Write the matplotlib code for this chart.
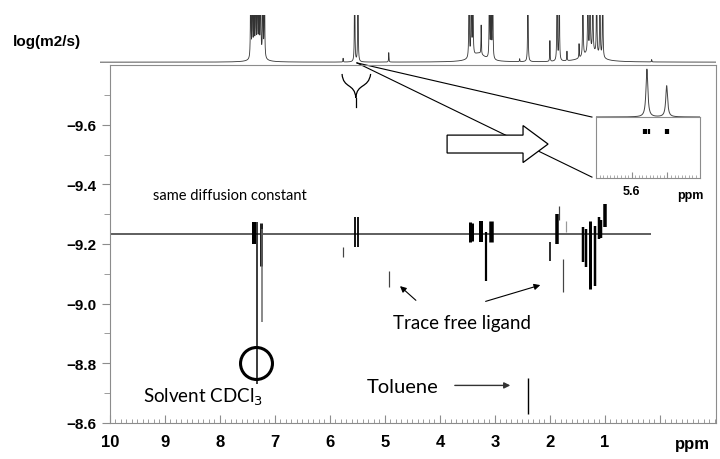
import matplotlib.pyplot as plt
import numpy as np
from matplotlib.patches import FancyArrow, PathPatch
from matplotlib.path import Path

# top 1D projection: line positions (ppm) and heights (1 = top of strip)
proj_ppm = [7.44, 7.41, 7.38, 7.35, 7.32, 7.29, 7.26, 7.22, 7.19, 5.76, 5.55, 5.49,
            4.93, 3.47, 3.43, 3.40, 3.25, 3.10, 3.07, 3.04, 2.55, 2.40, 2.00, 1.87,
            1.83, 1.69, 1.47, 1.40, 1.31, 1.27, 1.22, 1.15, 1.09, 1.04, 0.15]
proj_h = [3, 3, 3, 3, 3, 3, 3, 3, 3, 0.08, 3, 3,
          0.20, 3, 3, 3, 0.62, 3, 3, 3, 0.06, 3, 0.44, 3,
          3, 0.2, 0.3, 3, 3, 3, 3, 3, 3, 3, 0.05]
hump_ppm = [7.30, 3.30, 1.25]
hump_h = [0.12, 0.18, 0.22]
hump_w = [0.10, 0.14, 0.16]

# DOSY cross peaks: shift, log D top / bottom, stroke width (px), colour
cross_ppm = [7.38, 7.318, 7.26, 7.235, 5.545, 5.491, 5.764, 4.927,
             3.46, 3.41, 3.245, 3.164, 3.073, 2.00, 1.864, 1.836, 1.764, 1.709,
             1.39, 1.345, 1.264, 1.182, 1.10, 1.07, 0.991, 2.40]
cross_top = [-9.274, -9.274, -9.27, -9.25, -9.29, -9.29, -9.189, -9.109,
             -9.273, -9.27, -9.277, -9.24, -9.277, -9.206, -9.30, -9.327, -9.149, -9.277,
             -9.256, -9.25, -9.277, -9.26, -9.29, -9.28, -9.334, -8.75]
cross_bot = [-9.20, -8.73, -9.126, -8.938, -9.189, -9.189, -9.156, -9.055,
             -9.206, -9.21, -9.206, -9.075, -9.206, -9.142, -9.20, -9.28, -9.038, -9.24,
             -9.14, -9.122, -9.048, -9.058, -9.216, -9.22, -9.256, -8.629]
cross_px = [4, 1.5, 3, 1.5, 1.8, 1.8, 1.2, 1.2,
            3, 3, 4, 2.2, 4.5, 1.6, 3.5, 1.2, 1.2, 1.2,
            2.5, 2.5, 3, 2.5, 2.5, 2.5, 3.5, 1.4]
cross_col = ['k', 'k', '#222', '#666', 'k', 'k', '#444', '#444',
             'k', 'k', 'k', 'k', 'k', 'k', 'k', '#444', '#444', '#999',
             'k', 'k', 'k', 'k', 'k', 'k', 'k', 'k']

same_logd = -9.233

# zoomed inset around 5.5 ppm
inset_ppm = [5.554, 5.500]
inset_h = [0.92, 0.60]
blob_ppm = [5.566, 5.559, 5.552, 5.505, 5.499]
blob_logd = -9.24

xticks = [10, 9, 8, 7, 6, 5, 4, 3, 2, 1, 0]
xticklabels = ['10', '9', '8', '7', '6', '5', '4', '3', '2', '1', '']
yticks = [-9.6, -9.4, -9.2, -9.0, -8.8, -8.6]
yticklabels = ['−9.6', '−9.4', '−9.2', '−9.0', '−8.8', '−8.6']

bold = dict(family=['Liberation Sans', 'DejaVu Sans'], weight='bold')
note = dict(family=['Lato', 'DejaVu Sans'])
grey = '#8c8c8c'

fig = plt.figure(figsize=(7.2, 4.6), dpi=100)

# ---------- main DOSY panel ----------
ax = fig.add_axes([110/720, 36/460, 606/720, 358/460])
ax.set_xlim(10, -1.02)
ax.set_ylim(-8.6, -9.8)
for s in ax.spines.values():
    s.set_color(grey)
    s.set_linewidth(0.8)

ax.set_yticks(yticks)
ax.set_yticks(np.arange(-9.7, -8.6, 0.2), minor=True)
ax.set_yticklabels(yticklabels, fontsize=11, **bold)
ax.tick_params(axis='y', which='major', length=6, color=grey, pad=4)
ax.tick_params(axis='y', which='minor', length=4, color=grey)

ax.set_xticks(xticks)
ax.set_xticklabels(xticklabels, fontsize=12, **bold)
ax.set_xticks(np.arange(-1.0, 10.0, 0.1), minor=True)
ax.tick_params(axis='x', which='major', direction='in', length=6, color=grey, pad=8)
ax.tick_params(axis='x', which='minor', direction='in', length=3, color=grey, width=0.6)
ax.text(-0.6, -8.555, 'ppm', fontsize=12, ha='center', va='top', **bold)

ax.hlines(same_logd, 10, 0.16, color='#333', lw=1.1)
for p, t, b, w, c in zip(cross_ppm, cross_top, cross_bot, cross_px, cross_col):
    ax.vlines(p, t, b, color=c, lw=w * 0.72)

# solvent circle
ax.plot([7.35], [-8.80], 'o', ms=23, mfc='none', mec='k', mew=2.2)

ax.text(9.22, -9.364, 'same diffusion constant', fontsize=10.5, va='center', **note)
ax.text(4.86, -8.938, 'Trace free ligand', fontsize=13.5, va='center', **note)
ax.text(9.40, -8.689, 'Solvent CDCl$_3$', fontsize=13.5, va='center', **note)
ax.text(5.33, -8.723, 'Toluene', fontsize=14.5, va='center', **note)

arr = dict(arrowstyle='-|>', color='k', lw=0.8, mutation_scale=9)
ax.annotate('', xy=(4.764, -9.065), xytext=(4.40, -9.005), arrowprops=arr)
ax.annotate('', xy=(2.127, -9.065), xytext=(3.218, -9.005), arrowprops=arr)
ax.annotate('', xy=(2.67, -8.726), xytext=(3.78, -8.726),
            arrowprops=dict(arrowstyle='-|>', color='#333', lw=1.0, mutation_scale=9))

# hollow arrow pointing at the inset
ax.add_patch(FancyArrow(3.87, -9.535, -1.836, 0, width=0.060, head_width=0.124,
                        head_length=0.455, length_includes_head=True,
                        fc='white', ec='k', lw=0.9, zorder=3))

# brace under the 5.5 ppm signals
brace = Path([(5.78, -9.77), (5.76, -9.72), (5.55, -9.74), (5.53, -9.69),
              (5.53, -9.69), (5.51, -9.74), (5.30, -9.72), (5.26, -9.77)],
             [Path.MOVETO, Path.CURVE4, Path.CURVE4, Path.CURVE4,
              Path.MOVETO, Path.CURVE4, Path.CURVE4, Path.CURVE4])
ax.add_patch(PathPatch(brace, fc='none', ec='k', lw=0.9, clip_on=False))
ax.plot([5.53, 5.53], [-9.69, -9.66], color='k', lw=0.9)

# connector lines to the inset
ax.plot([5.509, 1.236], [-9.807, -9.6255], color='k', lw=0.8, clip_on=False)
ax.plot([5.509, 1.236], [-9.807, -9.4242], color='k', lw=0.8, clip_on=False)

# ---------- top projection ----------
xs = np.linspace(10.2, -1.02, 14000)
spec = np.zeros_like(xs)
for p, h in zip(proj_ppm, proj_h):
    spec += h * 0.004**2 / ((xs - p)**2 + 0.004**2)
for p, h, w in zip(hump_ppm, hump_h, hump_w):
    spec += h * w**2 / ((xs - p)**2 + w**2)
pax = fig.add_axes([100/720, 394/460, 616/720, 50/460])
pax.plot(xs, spec, color='#333', lw=0.6)
pax.set_xlim(10.18, -1.02)
pax.set_ylim(-0.06, 1.0)
pax.axis('off')

fig.text(13/720, 1 - 42/460, 'log(m2/s)', fontsize=11, va='center', **bold)

# ---------- inset ----------
iax = fig.add_axes([596/720, 1 - 179/460, 104/720, 61/460])
iax.set_xlim(5.693, 5.409)
iax.set_ylim(-9.05, -9.30)
for s in iax.spines.values():
    s.set_color(grey)
    s.set_linewidth(0.8)
iax.set_yticks([])
iax.set_xticks([5.6, 5.5])
iax.set_xticklabels(['5.6', ''], fontsize=9, **bold)
iax.set_xticks(np.arange(5.41, 5.70, 0.01), minor=True)
iax.tick_params(axis='x', which='major', direction='in', length=4, color=grey, pad=5)
iax.tick_params(axis='x', which='minor', direction='in', length=2, color=grey, width=0.5)
iax.text(5.436, -9.005, 'ppm', fontsize=9, ha='center', va='top', **bold)
iax.vlines(blob_ppm, blob_logd - 0.01, blob_logd + 0.01, color='k', lw=1.6)

ixs = np.linspace(5.693, 5.409, 3000)
ispec = np.zeros_like(ixs)
for p, h in zip(inset_ppm, inset_h):
    ispec += h * 0.003**2 / ((ixs - p)**2 + 0.003**2)
ipx = fig.add_axes([596/720, 1 - 118/460, 104/720, 52/460])
ipx.plot(ixs, ispec, color='#444', lw=0.7)
ipx.set_xlim(5.693, 5.409)
ipx.set_ylim(0, 1)
ipx.axis('off')

fig.savefig('out.png', dpi=100)
